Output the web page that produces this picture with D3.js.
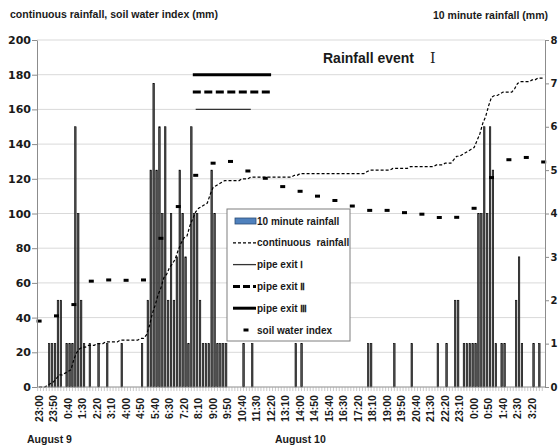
<!DOCTYPE html>
<html>
<head>
<meta charset="utf-8">
<script src="https://cdn.jsdelivr.net/npm/d3@7"></script>
<style>
body { margin: 0; background: #fff; }
svg text { font-family: "Liberation Sans", Arial, sans-serif; font-weight: bold; fill: #1a1a1a; }
</style>
</head>
<body>
<svg id="chart" width="558" height="448"></svg>
<script>
// 10 minute rainfall (mm), one value per 10-min slot, 23:00 Aug 9 .. 4:00 Aug 11
var rainfall = [
	0,0,0,1,1,1,2,2,0,1,
	1,1,6,4,2,1,0,1,0,0,
	1,0,0,1,0,0,0,0,1,0,
	0,0,0,0,0,1,0,2,5,7,
	5,6,4,6,2,4,2,3,5,4,
	3,1,6,4,4,2,1,1,1,5,
	4,1,1,1,1,0,0,0,0,0,
	1,0,0,1,0,0,0,0,0,0,
	0,0,0,0,0,0,0,0,1,0,
	1,0,0,0,0,0,0,0,0,0,
	0,0,0,0,0,0,0,0,0,0,
	0,0,0,1,1,0,0,0,0,0,
	0,0,1,0,0,0,0,0,1,0,
	0,0,0,0,0,0,0,1,0,0,
	1,0,0,2,2,0,1,1,1,1,
	1,4,4,6,4,6,5,1,0,1,
	1,0,0,0,2,3,1,0,0,0,
	1,0,1,0,0
];

// continuous rainfall (mm), same slots
var continuous = [
	0,0,0,1,2,3,5,7,7,8,
	9,10,16,20,22,23,23,24,24,24,
	25,25,25,26,26,26,26,26,27,27,
	27,27,27,27,27,28,28,30,35,42,
	47,53,57,63,65,69,71,74,79,83,
	86,87,93,97,101,103,104,105,106,111,
	115,116,117,118,119,119,119,119,119,119,
	120,120,120,121,121,121,121,121,121,121,
	121,121,121,121,121,121,121,121,122,122,
	123,123,123,123,123,123,123,123,123,123,
	123,123,123,123,123,123,123,123,123,123,
	123,123,123,124,125,125,125,125,125,125,
	125,125,126,126,126,126,126,126,127,127,
	127,127,127,127,127,127,127,128,128,128,
	129,129,129,131,133,133,134,135,136,137,
	138,142,146,152,156,162,167,168,168,169,
	170,170,170,170,172,175,176,176,176,176,
	177,177,178,178,178
];

// soil water index (mm), hourly 23:00 Aug 9 .. 4:00 Aug 11
var soilWater = [38, 41, 47.5, 61, 61.7, 61.5, 61.7, 85.7, 104, 122, 129, 130,
	124.5, 120.3, 115.5, 112.8, 110, 107.5, 104.3, 101.8, 101.8, 100.5, 99.6, 97.7,
	97.8, 103, 120.7, 131, 132.3, 129.7];

var tickLabels = ["23:00","23:50","0:40","1:30","2:20","3:10","4:00","4:50","5:40","6:30",
	"7:20","8:10","9:00","9:50","10:40","11:30","12:20","13:10","14:00","14:50",
	"15:40","16:30","17:20","18:10","19:00","19:50","20:40","21:30","22:20","23:10",
	"0:00","0:50","1:40","2:30","3:20"];

var leftTicks = [0,20,40,60,80,100,120,140,160,180,200];
var rightTicks = [0,1,2,3,4,5,6,7,8];

// pipe exit outflow periods, drawn at a fixed level
var pipeNames = ["pipe exit Ⅰ", "pipe exit Ⅱ", "pipe exit Ⅲ"];
var pipeStart = ["10 08:00", "10 07:50", "10 07:50"];
var pipeEnd = ["10 11:10", "10 12:20", "10 12:20"];
var pipeLevel = [160, 170, 180];

var legendLabels = ["10 minute rainfall", "continuous  rainfall", "pipe exit Ⅰ",
	"pipe exit Ⅱ", "pipe exit Ⅲ", "soil water index"];

(function() {

	var svg = d3.select("#chart");

	var plot = {left: 37, right: 545, top: 40, bottom: 387};

	var start = new Date(2000, 7, 9, 23, 0),
		end = new Date(2000, 7, 11, 4, 10);
	var fmt = d3.timeFormat("%d %H:%M");
	var keys = d3.timeMinute.every(10).range(start, end).map(fmt);
	var hours = d3.timeHour.every(1).range(start, end).map(fmt);

	var x = d3.scaleBand().domain(keys).range([37.65, 545.15]);
	var bw = x.bandwidth();
	var cx = function(k) { return x(k) + bw / 2; };

	var y = d3.scaleLinear().domain([0, 200]).range([plot.bottom, plot.top]);
	var y2 = d3.scaleLinear().domain([0, 8]).range([plot.bottom, plot.top]);

	// gridlines
	svg.append("g")
		.selectAll("line")
		.data(leftTicks.slice(1))
		.enter().append("line")
		.attr("x1", plot.left).attr("x2", plot.right)
		.attr("y1", function(d) { return y(d); })
		.attr("y2", function(d) { return y(d); })
		.attr("stroke", "#d9d9d9")
		.attr("stroke-width", 1);

	// bars
	var barData = rainfall.map(function(v, i) { return {key: keys[i], value: v}; })
		.filter(function(d) { return d.value > 0; });

	svg.append("g")
		.selectAll(".bar")
		.data(barData)
		.enter().append("rect")
		.attr("class", "bar")
		.attr("x", function(d) { return cx(d.key) + 0.7; })
		.attr("y", function(d) { return y2(d.value); })
		.attr("width", 1.5)
		.attr("height", function(d) { return plot.bottom - y2(d.value); })
		.attr("fill", "#555")
		.attr("stroke", "#000")
		.attr("stroke-width", 0.6);

	// continuous rainfall
	var line = d3.line()
		.x(function(d, i) { return cx(keys[i]); })
		.y(function(d) { return y(d); });

	svg.append("path")
		.datum(continuous)
		.attr("d", line)
		.attr("fill", "none")
		.attr("stroke", "#000")
		.attr("stroke-width", 1.2)
		.attr("stroke-dasharray", "3,2");

	// soil water index
	svg.append("g")
		.selectAll("rect")
		.data(soilWater)
		.enter().append("rect")
		.attr("x", function(d, i) { return cx(hours[i]) - 2.5; })
		.attr("y", function(d) { return y(d) - 1.5; })
		.attr("width", 5)
		.attr("height", 3)
		.attr("fill", "#000");

	// pipe exit periods
	var pipeStyle = [
		{w: 1.3, dash: null, color: "#333"},
		{w: 3, dash: "8,3.5", color: "#000"},
		{w: 3, dash: null, color: "#000"}
	];
	pipeNames.forEach(function(name, i) {
		svg.append("line")
			.attr("x1", cx(pipeStart[i]))
			.attr("x2", cx(pipeEnd[i]))
			.attr("y1", y(pipeLevel[i]))
			.attr("y2", y(pipeLevel[i]))
			.attr("stroke", pipeStyle[i].color)
			.attr("stroke-width", pipeStyle[i].w)
			.attr("stroke-dasharray", pipeStyle[i].dash);
	});

	// axes
	var axisColor = "#8c8c8c";

	var gl = svg.append("g")
		.attr("transform", "translate(" + plot.left + ",0)")
		.call(d3.axisLeft(y).tickValues(leftTicks).tickSize(5).tickPadding(1).tickSizeOuter(0));
	gl.select(".domain").attr("stroke", axisColor);
	gl.selectAll(".tick line").attr("stroke", axisColor);
	gl.selectAll(".tick text")
		.style("font-family", "'DejaVu Sans', sans-serif")
		.style("font-size", "11px");

	var gr = svg.append("g")
		.attr("transform", "translate(" + plot.right + ",0)")
		.call(d3.axisRight(y2).tickValues(rightTicks).tickSize(4).tickPadding(1.5).tickSizeOuter(0));
	gr.select(".domain").attr("stroke", axisColor);
	gr.selectAll(".tick line").attr("stroke", axisColor);
	gr.selectAll(".tick text")
		.style("font-family", "'DejaVu Sans', sans-serif")
		.style("font-size", "10px");

	svg.append("line")
		.attr("x1", plot.left).attr("x2", plot.right)
		.attr("y1", plot.bottom).attr("y2", plot.bottom)
		.attr("stroke", axisColor);

	// minor ticks between slots
	svg.append("g")
		.selectAll("line")
		.data(keys)
		.enter().append("line")
		.attr("x1", function(d) { return x(d); })
		.attr("x2", function(d) { return x(d); })
		.attr("y1", plot.bottom)
		.attr("y2", plot.bottom + 4)
		.attr("stroke", "#a6a6a6")
		.attr("stroke-width", 0.6);

	// time labels
	svg.append("g")
		.selectAll("text")
		.data(tickLabels)
		.enter().append("text")
		.attr("transform", function(d, i) {
			return "translate(" + cx(keys[i * 5]) + ",408.5) rotate(-90)";
		})
		.attr("text-anchor", "middle")
		.attr("dy", "0.35em")
		.style("font-size", "10.5px")
		.text(function(d) { return d; });

	// titles
	svg.append("text")
		.attr("x", 10).attr("y", 18)
		.attr("textLength", 208).attr("lengthAdjust", "spacingAndGlyphs")
		.style("font-size", "10px")
		.text("continuous rainfall, soil water index (mm)");

	svg.append("text")
		.attr("x", 433).attr("y", 18.5)
		.attr("textLength", 115).attr("lengthAdjust", "spacingAndGlyphs")
		.style("font-size", "10px")
		.text("10 minute rainfall (mm)");

	svg.append("text")
		.attr("x", 323).attr("y", 63)
		.style("font-size", "14px")
		.text("Rainfall event");
	svg.append("text")
		.attr("x", 430).attr("y", 63)
		.style("font-size", "14px")
		.style("font-family", "'DejaVu Serif', serif")
		.style("font-weight", "normal")
		.text("Ⅰ");

	svg.append("text")
		.attr("x", 27).attr("y", 443)
		.style("font-size", "10.5px")
		.text("August 9");
	svg.append("text")
		.attr("x", 275).attr("y", 443)
		.style("font-size", "10.5px")
		.text("August 10");

	// legend
	var lg = svg.append("g").attr("transform", "translate(227,209)");
	lg.append("rect")
		.attr("width", 123).attr("height", 132)
		.attr("fill", "#fff")
		.attr("stroke", "#7f7f7f");

	var rows = lg.selectAll(".item")
		.data(legendLabels)
		.enter().append("g")
		.attr("class", "item")
		.attr("transform", function(d, i) { return "translate(0," + (12 + i * 21.8) + ")"; });

	rows.append("text")
		.attr("x", 30)
		.attr("dy", "0.35em")
		.style("font-size", "10px")
		.style("white-space", "pre")
		.text(function(d) { return d; });

	rows.each(function(d, i) {
		var g = d3.select(this);
		if (i === 0) {
			g.append("rect")
				.attr("x", 8).attr("y", -3).attr("width", 21).attr("height", 6)
				.attr("fill", "#4f81bd").attr("stroke", "#2c4d75").attr("stroke-width", 0.8);
		} else if (i === 1) {
			g.append("line").attr("x1", 6).attr("x2", 29)
				.attr("stroke", "#000").attr("stroke-width", 1.2).attr("stroke-dasharray", "3,2");
		} else if (i === 5) {
			g.append("rect")
				.attr("x", 16.5).attr("y", -1.5).attr("width", 5).attr("height", 3)
				.attr("fill", "#000");
		} else {
			var s = pipeStyle[i - 2];
			g.append("line").attr("x1", 6).attr("x2", 29)
				.attr("stroke", s.color).attr("stroke-width", s.w)
				.attr("stroke-dasharray", s.dash ? "7,3" : null);
		}
	});

})();
</script>
</body>
</html>
